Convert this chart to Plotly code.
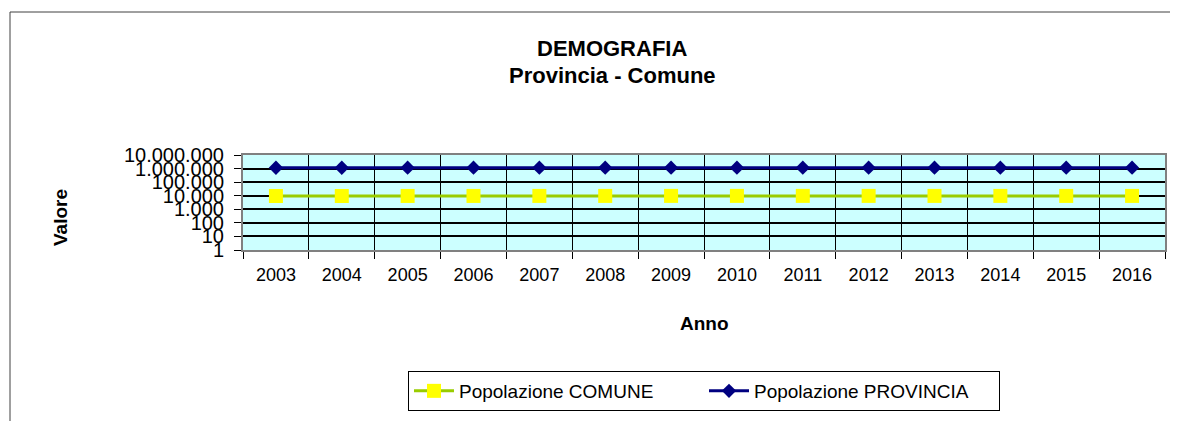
import plotly.graph_objects as go

anni = ["2003", "2004", "2005", "2006", "2007", "2008", "2009", "2010",
        "2011", "2012", "2013", "2014", "2015", "2016"]
pop_comune = [9500, 9550, 9600, 9620, 9650, 9680, 9700, 9720,
              9700, 9690, 9680, 9670, 9660, 9650]
pop_provincia = [1150000, 1152000, 1155000, 1158000, 1160000, 1162000, 1165000, 1167000,
                 1168000, 1169000, 1170000, 1171000, 1170000, 1169000]
y_tickvals = [1, 10, 100, 1000, 10000, 100000, 1000000, 10000000]
y_ticktext = ["1", "10", "100", "1.000", "10.000", "100.000", "1.000.000", "10.000.000"]

FONT = "Liberation Sans, Arial, sans-serif"

OFF = 8  # default page body margin
W, H = 1178, 421
# plot area pixel geometry (as seen in screenshot)
L, R, T, B = 243, 1165, 155, 250
pw, ph = R - L, B - T

def px(x):
    return (x - L) / pw

def py(y):
    return (B - y) / ph

fig = go.Figure()
fig.add_trace(go.Scatter(
    x=anni, y=pop_comune, mode="lines+markers", name="Popolazione COMUNE",
    line=dict(color="#99CC00", width=3),
    marker=dict(symbol="square", size=14, color="#FFFF00", line=dict(width=0)),
))
fig.add_trace(go.Scatter(
    x=anni, y=pop_provincia, mode="lines+markers", name="Popolazione PROVINCIA",
    line=dict(color="#000080", width=3),
    marker=dict(symbol="diamond", size=11, color="#000080", line=dict(width=0)),
))

fig.update_layout(
    width=W, height=H,
    margin=dict(l=L - OFF, r=W - R + OFF, t=T - OFF, b=H - B + OFF, pad=0),
    paper_bgcolor="white",
    plot_bgcolor="#CCFFFF",
    font=dict(family=FONT, size=18, color="black"),
    showlegend=True,
    legend=dict(
        orientation="h", x=0.5, xanchor="center", y=py(371), yanchor="top",
        bordercolor="black", borderwidth=1, bgcolor="white",
        font=dict(family=FONT, size=19, color="black"),
        itemwidth=40, entrywidth=240, entrywidthmode="pixels",
    ),
    xaxis=dict(
        type="category", range=[-0.5, 13.5], tickson="boundaries",
        showgrid=True, gridcolor="black", gridwidth=1,
        ticks="outside", ticklen=7, tickcolor="black", tickwidth=1,
        showline=True, linecolor="#808080", linewidth=2, mirror=True,
        tickfont=dict(family=FONT, size=18), ticklabelstandoff=7,
        zeroline=False,
    ),
    yaxis=dict(
        type="log", range=[0, 7],
        tickvals=y_tickvals, ticktext=y_ticktext,
        showgrid=True, gridcolor="black", gridwidth=1.5,
        ticks="outside", ticklen=7, tickcolor="black", tickwidth=1,
        showline=True, linecolor="#808080", linewidth=2, mirror=True,
        tickfont=dict(family=FONT, size=20), ticklabelstandoff=6,
        zeroline=False,
    ),
    shapes=[dict(
        type="rect", xref="paper", yref="paper",
        x0=px(10), x1=px(1200), y0=py(440), y1=py(12),
        line=dict(color="#404040", width=1), fillcolor="rgba(0,0,0,0)", layer="below",
    )],
    annotations=[
        dict(text="<b>DEMOGRAFIA</b>", xref="paper", yref="paper", x=px(612), y=py(48),
             xanchor="center", yanchor="middle", showarrow=False,
             font=dict(family=FONT, size=22)),
        dict(text="<b>Provincia - Comune</b>", xref="paper", yref="paper", x=px(612), y=py(75),
             xanchor="center", yanchor="middle", showarrow=False,
             font=dict(family=FONT, size=22)),
        dict(text="<b>Valore</b>", xref="paper", yref="paper", x=px(60), y=py(218),
             xanchor="center", yanchor="middle", showarrow=False, textangle=-90,
             font=dict(family=FONT, size=19)),
        dict(text="<b>Anno</b>", xref="paper", yref="paper", x=px(704), y=py(323),
             xanchor="center", yanchor="middle", showarrow=False,
             font=dict(family=FONT, size=19)),
    ],
)

fig.write_html("out.html")
